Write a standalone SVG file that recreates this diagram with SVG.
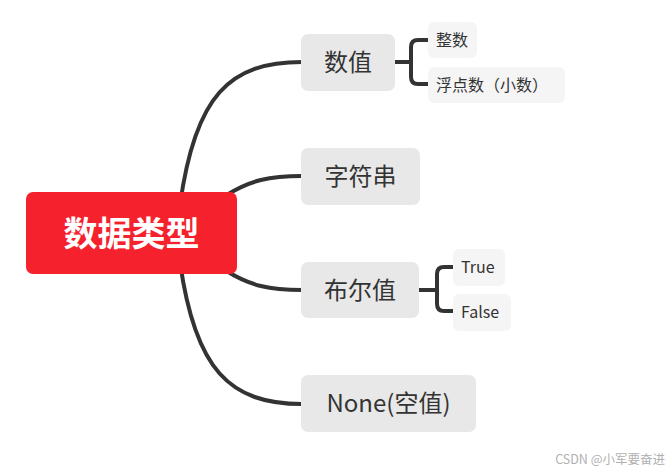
<svg xmlns="http://www.w3.org/2000/svg" width="672" height="474" viewBox="0 0 672 474">
<style>
.c{fill:none;stroke:#333;stroke-width:4;stroke-linecap:round}
.b{fill:none;stroke:#333;stroke-width:4;stroke-linejoin:round}
.n{fill:#e8e8e8}
.s{fill:#f5f5f5}
.t1{font-family:"Noto Sans CJK SC","Liberation Sans",sans-serif;font-size:24px;fill:#333}
.t2{font-family:"Noto Sans CJK SC","Liberation Sans",sans-serif;font-size:16px;fill:#333}
</style>
<rect width="672" height="474" fill="#fff"/>
<g id="connectors">
<path class="c" d="M180,205 C195,95 230,62 302,62"/>
<path class="c" d="M225,196 C250,180 270,176 302,176"/>
<path class="c" d="M225,270 C250,286 270,290 302,290"/>
<path class="c" d="M180,262 C195,370 230,404 302,404"/>
<path class="b" d="M395,62 H411 M428,40 H418 Q411,40 411,47 V77 Q411,84 418,84 H428"/>
<path class="b" d="M419,290 H437 M453,267 H444 Q437,267 437,274 V304 Q437,311 444,311 H453"/>
</g>
<g id="root">
<rect x="26" y="192" width="211" height="82" rx="7" fill="#f5222d"/>
<text x="131.5" y="246" text-anchor="middle" font-family="Noto Sans CJK SC,sans-serif" font-size="34" font-weight="bold" fill="#fff">数据类型</text>
</g>
<g id="n-shuzhi">
<rect class="n" x="301" y="34" width="94" height="57" rx="7"/>
<text class="t1" x="348" y="71" text-anchor="middle">数值</text>
</g>
<g id="n-zhengshu">
<rect class="s" x="428" y="22" width="49" height="36" rx="6"/>
<text class="t2" x="436" y="46">整数</text>
</g>
<g id="n-fudian">
<rect class="s" x="428" y="67" width="137" height="36" rx="6"/>
<text class="t2" x="436" y="91">浮点数（小数）</text>
</g>
<g id="n-zifuchuan">
<rect class="n" x="301" y="148" width="119" height="57" rx="7"/>
<text class="t1" x="360.5" y="185" text-anchor="middle">字符串</text>
</g>
<g id="n-buer">
<rect class="n" x="301" y="262" width="118" height="56" rx="7"/>
<text class="t1" x="360" y="299" text-anchor="middle">布尔值</text>
</g>
<g id="n-true">
<rect class="s" x="453" y="249" width="52" height="37" rx="6"/>
<text class="t2" x="461" y="273">True</text>
</g>
<g id="n-false">
<rect class="s" x="453" y="294" width="58" height="37" rx="6"/>
<text class="t2" x="461" y="318">False</text>
</g>
<g id="n-none">
<rect class="n" x="301" y="375" width="175" height="57" rx="7"/>
<text class="t1" x="388.5" y="412" text-anchor="middle">None(空值)</text>
</g>
<text x="665" y="464" text-anchor="end" font-family="Noto Sans CJK SC,sans-serif" font-size="12.5" fill="#b0b0b0">CSDN @小军要奋进</text>
</svg>
